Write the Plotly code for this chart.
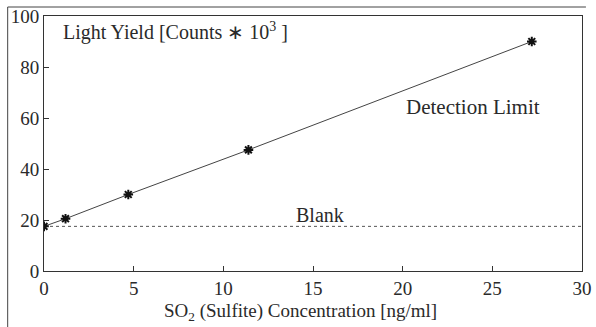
import plotly.graph_objects as go

# Calibration data: SO2 (sulfite) concentration vs. light yield
conc_ng_ml = [0.0, 1.2, 4.7, 11.4, 27.2]
light_yield = [17.5, 20.5, 30.0, 47.5, 90.0]
blank_level = 17.5

x_ticks = [0, 5, 10, 15, 20, 25, 30]
y_ticks = [0, 20, 40, 60, 80, 100]

FONT = "Liberation Serif"
INK = "#2a2a2a"

fig = go.Figure()

# Blank level (dotted)
fig.add_trace(go.Scatter(
    x=[0, 30], y=[blank_level, blank_level], mode="lines",
    line=dict(color="#555555", width=1, dash="dot"),
    hoverinfo="skip", showlegend=False,
))

# Calibration curve with measured points
fig.add_trace(go.Scatter(
    x=conc_ng_ml, y=light_yield, mode="lines+markers",
    line=dict(color="#444444", width=1),
    marker=dict(symbol="asterisk", size=8, color="#111111",
                line=dict(color="#111111", width=2)),
    showlegend=False,
))

fig.add_annotation(x=0.95, y=94, xref="x", yref="y", showarrow=False,
                   xanchor="left", yanchor="middle",
                   text="Light Yield [Counts \u2217 10<sup>3</sup> ]",
                   font=dict(family=FONT, size=20, color=INK))
fig.add_annotation(x=23.9, y=64.3, xref="x", yref="y", showarrow=False,
                   text="Detection Limit",
                   font=dict(family=FONT, size=21, color=INK))
fig.add_annotation(x=15.4, y=22.0, xref="x", yref="y", showarrow=False,
                   text="Blank",
                   font=dict(family=FONT, size=20, color=INK))
fig.add_annotation(x=(305 - 44) / 548, y=-0.105, xref="paper", yref="paper",
                   showarrow=False, yanchor="top",
                   text="SO<sub>2</sub> (Sulfite) Concentration [ng/ml]",
                   font=dict(family=FONT, size=19, color=INK))

# Outer frame (left and top)
fig.add_shape(type="line", xref="paper", yref="paper",
              x0=-37 / 548, x1=-37 / 548, y0=1 + 9 / 255, y1=-56 / 255,
              line=dict(color="#444444", width=1))
fig.add_shape(type="line", xref="paper", yref="paper",
              x0=-37 / 548, x1=1 + 4 / 548, y0=1 + 9 / 255, y1=1 + 9 / 255,
              line=dict(color="#444444", width=1))

axis_common = dict(
    showgrid=False, zeroline=False, showline=True, mirror=True,
    linecolor="#333333", linewidth=1, ticks="inside", ticklen=5,
    tickcolor="#333333", tickfont=dict(family=FONT, size=19, color=INK),
    ticklabeloverflow="allow", ticklabelstandoff=0,
)

fig.update_xaxes(range=[0, 30], tickvals=x_ticks, **axis_common)
fig.update_yaxes(range=[0, 100], tickvals=y_ticks, **axis_common)

fig.update_layout(
    width=596, height=327,
    margin=dict(l=44, r=4, t=16, b=56),
    plot_bgcolor="white", paper_bgcolor="white",
)

fig.write_html("out.html")
